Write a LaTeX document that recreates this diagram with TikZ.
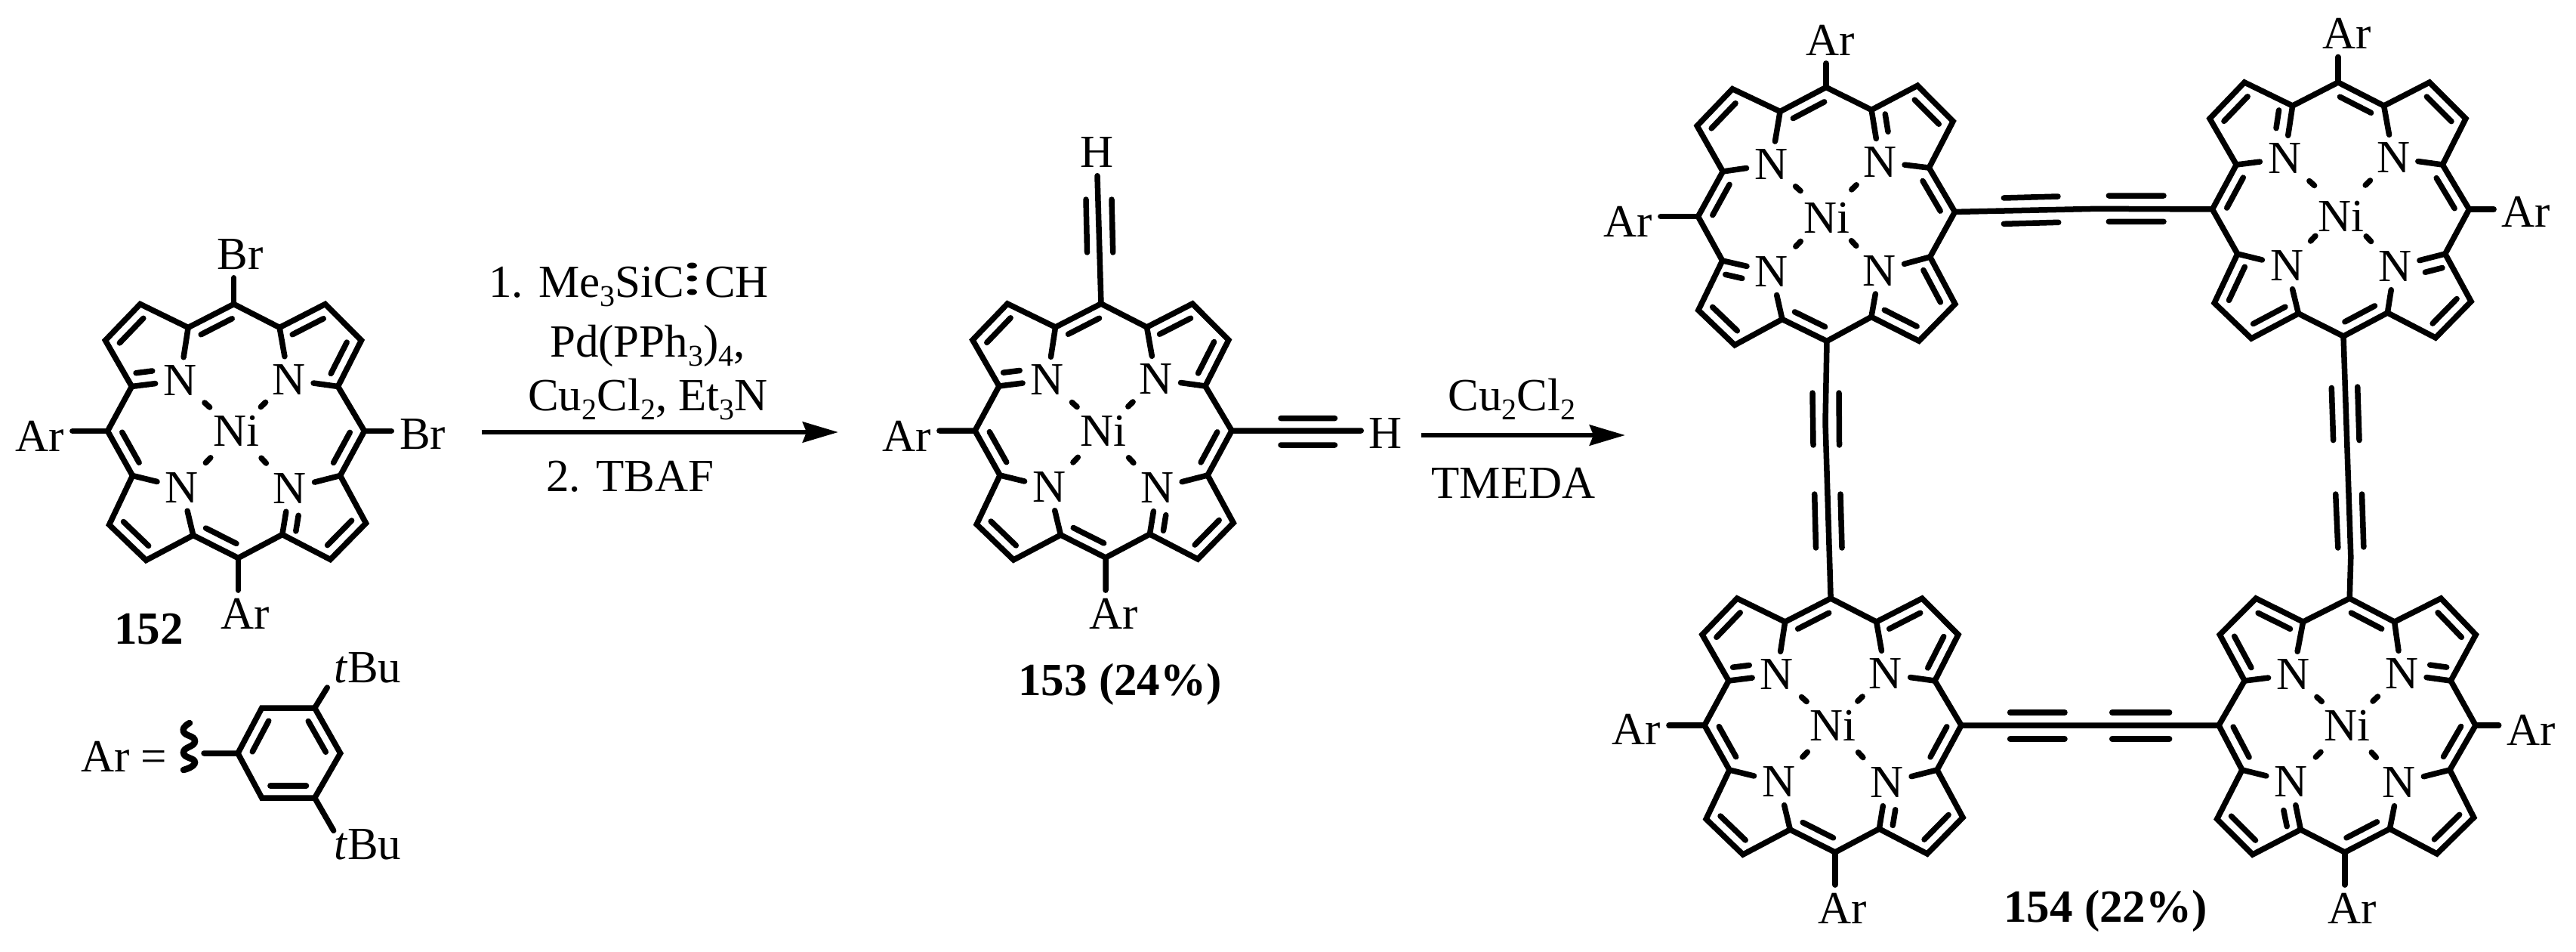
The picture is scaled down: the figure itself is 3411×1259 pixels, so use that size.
\documentclass[tikz,border=0pt]{standalone}
\usepackage{fontspec}
\setmainfont{Liberation Serif}
\usetikzlibrary{calc,arrows.meta}
\tikzset{
  bond/.style={line width=7.5pt,line cap=round,line join=miter,miter limit=10,black},
  dashb/.style={bond},
  atom/.style={inner sep=10.5pt,font=\fontsize{61}{72}\selectfont,text=black},
  txt/.style={inner sep=0pt,font=\fontsize{61}{72}\selectfont,text=black,anchor=base},
  btxt/.style={inner sep=0pt,font=\fontsize{61}{72}\selectfont\bfseries,text=black,anchor=base},
  rxn/.style={line width=6.5pt,black,-{Stealth[length=47pt,width=27pt,inset=5pt]}},
}
\newcommand\sbs[1]{\raisebox{-12pt}{\fontsize{40}{40}\selectfont #1}}
\newcommand\patom[3]{\coordinate (\pfx#1) at ({\pcx+(#2)+\psh*(#3)},{\pcy+(#3)+\ptl*(#2)});}
\newcommand\dbl[2]{\path ($(\pfx#1)!16pt!-90:(\pfx#2)$) coordinate (pp) ($(\pfx#2)!16pt!90:(\pfx#1)$) coordinate (qq);
  \draw[bond] ($(pp)!.16!(qq)$) -- ($(pp)!.84!(qq)$);}
\newcommand\ndb[4]{\path ($(\pfx#1)!17pt!#3:(\pfx#2)$) coordinate (pp) ($(\pfx#2)!17pt!#4:(\pfx#1)$) coordinate (qq);
  \draw[bond] ($(pp)!.12!(qq)$) -- ($(pp)!.46!(qq)$);}
% #1 prefix, #2 cx, #3 cy, #4 shear x, #5 tilt y, #6 Ni offset
\newcommand\porph[6]{%
  \def\pfx{#1}\def\pcx{#2}\def\pcy{#3}\def\psh{#4}\def\ptl{#5}%
  \patom{M1}{0}{-168}\patom{A1}{60}{-137}\patom{B1}{121}{-168}\patom{B2}{168}{-120}\patom{A2}{136}{-59}%
  \patom{M2}{170}{0}\patom{A3}{137}{59}\patom{B3}{170}{122}\patom{B4}{122}{170}\patom{A4}{59}{137}%
  \patom{M3}{0}{168}\patom{A5}{-59}{138}\patom{B5}{-122}{171}\patom{B6}{-170}{124}\patom{A6}{-138}{59}%
  \patom{M4}{-170}{0}\patom{A7}{-137}{-59}\patom{B7}{-171}{-120}\patom{B8}{-124}{-168}\patom{A8}{-61}{-137}%
  \patom{Nic}{0}{0}\patom{Nil}{0}{#6}%
  \patom{Nq1}{71}{-68}\patom{Nq2}{70}{76}\patom{Nq3}{-73}{75}\patom{Nq4}{-73}{-67}%
  \node[atom] (#1N1) at (#1Nq1) {N};
  \node[atom] (#1N2) at (#1Nq2) {N};
  \node[atom] (#1N3) at (#1Nq3) {N};
  \node[atom] (#1N4) at (#1Nq4) {N};
  \node[atom] (#1Ni) at (#1Nil) {Ni};
  \draw[bond] (#1M1)--(#1A1)--(#1B1)--(#1B2)--(#1A2)--(#1M2)--(#1A3)--(#1B3)--(#1B4)--(#1A4)--(#1M3)--(#1A5)--(#1B5)--(#1B6)--(#1A6)--(#1M4)--(#1A7)--(#1B7)--(#1B8)--(#1A8)--cycle;
  \draw[bond] (#1A1)--(#1N1) (#1A2)--(#1N1) (#1A3)--(#1N2) (#1A4)--(#1N2)
              (#1A5)--(#1N3) (#1A6)--(#1N3) (#1A7)--(#1N4) (#1A8)--(#1N4);
  \draw[dashb] ($(#1Nic)!.47!(#1Nq1)$)--($(#1Nic)!.56!(#1Nq1)$)
               ($(#1Nic)!.47!(#1Nq2)$)--($(#1Nic)!.56!(#1Nq2)$)
               ($(#1Nic)!.47!(#1Nq3)$)--($(#1Nic)!.56!(#1Nq3)$)
               ($(#1Nic)!.47!(#1Nq4)$)--($(#1Nic)!.56!(#1Nq4)$);
}
\newcommand\patA{\dbl{B7}{B8}\dbl{A8}{M1}\dbl{A1}{B1}\dbl{B2}{A2}\dbl{M2}{A3}\dbl{B3}{B4}\dbl{M3}{A5}\dbl{B5}{B6}\dbl{A6}{M4}\ndb{A4}{N2}{-90}{90}\ndb{A7}{N4}{90}{-90}}
\newcommand\patB{\dbl{B3}{B4}\dbl{A4}{M3}\dbl{A5}{B5}\dbl{B6}{A6}\dbl{M4}{A7}\dbl{B7}{B8}\dbl{M1}{A1}\dbl{B1}{B2}\dbl{A2}{M2}\ndb{A8}{N4}{-90}{90}\ndb{A3}{N2}{90}{-90}}
\newcommand\patC{\dbl{B5}{B6}\dbl{M3}{A5}\dbl{B4}{A4}\dbl{A3}{B3}\dbl{A2}{M2}\dbl{B1}{B2}\dbl{A8}{M1}\dbl{B7}{B8}\dbl{M4}{A7}\ndb{A1}{N1}{90}{-90}\ndb{A6}{N3}{-90}{90}}
\newcommand\patD{\dbl{B1}{B2}\dbl{M1}{A1}\dbl{B8}{A8}\dbl{A7}{B7}\dbl{A6}{M4}\dbl{B5}{B6}\dbl{A4}{M3}\dbl{B3}{B4}\dbl{M2}{A3}\ndb{A5}{N3}{90}{-90}\ndb{A2}{N1}{-90}{90}}
\begin{document}
\begin{tikzpicture}[x=1pt,y=-1pt]
\useasboundingbox (0,0) rectangle (3411,1259);
\fill[white] (0,0) rectangle (3411,1259);

% ---- 152 ----
\porph{a}{312.5}{570.5}{0.017}{0}{0}\patA
\node[atom] (aArL) at (53,577) {Ar};
\node[atom] (aArB) at (325,812) {Ar};
\node[atom] (aBrT) at (318,337) {Br};
\node[atom] (aBrR) at (559.5,575) {Br};
\draw[bond] (aM4)--(aM4 -| aArL.east) (aM3)--(aM3 |- aArB.north) (aM1)--(aM1 |- aBrT.south) (aM2)--(aM2 -| aBrR.west);
\node[btxt] (lab152) at (197,852) {152};

% ---- Ar definition ----
\def\pfx{h}
\coordinate (h1) at (315,997);\coordinate (h2) at (346.7,937);\coordinate (h3) at (416.7,937);
\coordinate (h4) at (450.7,997);\coordinate (h5) at (416.7,1056);\coordinate (h6) at (346.7,1056);
\draw[bond] (h1)--(h2)--(h3)--(h4)--(h5)--(h6)--cycle;
\dbl{1}{2}\dbl{3}{4}\dbl{5}{6}
\coordinate (hw) at (270,997);\coordinate (ht1) at (433.3,910);\coordinate (ht2) at (441.7,1099.3);
\draw[bond] (hw)--(h1) (h3)--(ht1) (h5)--(ht2);
\draw[bond,line width=8.5pt] plot[smooth,tension=1] coordinates {(251,957) (243,968) (258,981) (243,996) (258,1009) (243,1019)};
\node[atom] (tbuT) at (486.7,884) {\textit{t}Bu};
\node[atom] (tbuB) at (486.7,1118) {\textit{t}Bu};
\node[txt,anchor=base west] (arEq) at (107,1021) {Ar =};

% ---- Reaction 1 ----
\node[txt,anchor=base west] (r1a) at (647,393) {1. Me\sbs{3}SiC};
\node[txt,anchor=base east] (r1b) at (1018,393) {CH};
\fill (916.4,351.5) ellipse[x radius=6.5pt,y radius=4pt];
\fill (916.4,368.5) ellipse[x radius=6.5pt,y radius=4pt];
\fill (916.4,386.5) ellipse[x radius=6.5pt,y radius=4pt];
\node[txt] (r1c) at (857.5,472) {Pd(PPh\sbs{3})\sbs{4},};
\node[txt] (r1d) at (858,543) {Cu\sbs{2}Cl\sbs{2}, Et\sbs{3}N};
\node[txt] (r1e) at (834,650) {2. TBAF};
\coordinate (ar1s) at (638,572);\coordinate (ar1e) at (1110,572);
\draw[rxn] (ar1s)--(ar1e);

% ---- 153 ----
\porph{b}{1461}{570}{0.018}{0}{0}\patA
\node[atom] (bArL) at (1201,577) {Ar};
\node[atom] (bArB) at (1475,812) {Ar};
\node[atom] (bHT) at (1453,202) {H};
\node[atom] (bHR) at (1835,574) {H};
\draw[bond] (bM4)--(bM4 -| bArL.east) (bM3)--(bM3 |- bArB.north) (bM1)--(bHT.south) (bM2)--(bM2 -| bHR.west);
\draw[bond] (1438,264)--(1439.5,334) (1472,264)--(1473.7,334) (1696,553.6)--(1767.5,553.6) (1696,589)--(1767.5,589);
\node[btxt] (lab153) at (1483,920) {153 (24\%)};

% ---- Reaction 2 ----
\node[txt] (r2a) at (2002,543) {Cu\sbs{2}Cl\sbs{2}};
\node[txt] (r2b) at (2004,659) {TMEDA};
\coordinate (ar2s) at (1882,576);\coordinate (ar2e) at (2152,576);
\draw[rxn] (ar2s)--(ar2e);

% ---- 154 ----
\porph{tl}{2418.5}{283.5}{0.003}{-0.018}{5}\patC
\porph{tr}{3099.5}{277}{0.021}{0}{9}\patB
\porph{bl}{2427}{960}{0.017}{0}{0}\patA
\porph{br}{3108}{960}{-0.019}{0}{0}\patD

\node[atom] (tlArT) at (2423.7,53) {Ar};
\node[atom] (tlArL) at (2156,293) {Ar};
\node[atom] (trArT) at (3107.4,44.6) {Ar};
\node[atom] (trArR) at (3345,280) {Ar};
\node[atom] (blArL) at (2167,965) {Ar};
\node[atom] (blArB) at (2440,1202) {Ar};
\node[atom] (brArR) at (3351.6,966) {Ar};
\node[atom] (brArB) at (3115,1202) {Ar};
\draw[bond] (tlM1)--(tlM1 |- tlArT.south) (tlM4)--(tlM4 -| tlArL.east)
            (trM1)--(trM1 |- trArT.south) (trM2)--(trM2 -| trArR.west)
            (blM4)--(blM4 -| blArL.east) (blM3)--(blM3 |- blArB.north)
            (brM2)--(brM2 -| brArR.west) (brM3)--(brM3 |- brArB.north);
% diynes
\coordinate (cTop) at (2776.7,276.3);\coordinate (cLeft) at (2417,559);\coordinate (cRight) at (3112.8,737);
\draw[bond] (tlM2)--(cTop)--(trM4) (tlM3)--(cLeft)--(blM1) (trM3)--(cRight)--(brM1) (blM2)--(brM4);
\draw[bond] (2653.3,262)--(2725,260) (2653.3,296.3)--(2725.7,294.3) (2792.3,259)--(2865,259) (2792.3,293.3)--(2865,293.3);
\draw[bond] (2400,520)--(2401,589) (2435,520)--(2435.5,589) (2402.7,654)--(2404.5,725) (2437,654)--(2439,725);
\draw[bond] (3087.3,513.4)--(3089.6,582.6) (3121.7,512)--(3124,582.6) (3092.7,654)--(3095.8,725) (3127.5,654)--(3129.8,724);
\draw[bond] (2661.6,943)--(2734,943) (2661.6,978)--(2734,978) (2796.7,943)--(2872.6,943) (2796.7,978)--(2872.6,978);
\node[btxt] (lab154) at (2788,1220) {154 (22\%)};
\end{tikzpicture}
\end{document}
